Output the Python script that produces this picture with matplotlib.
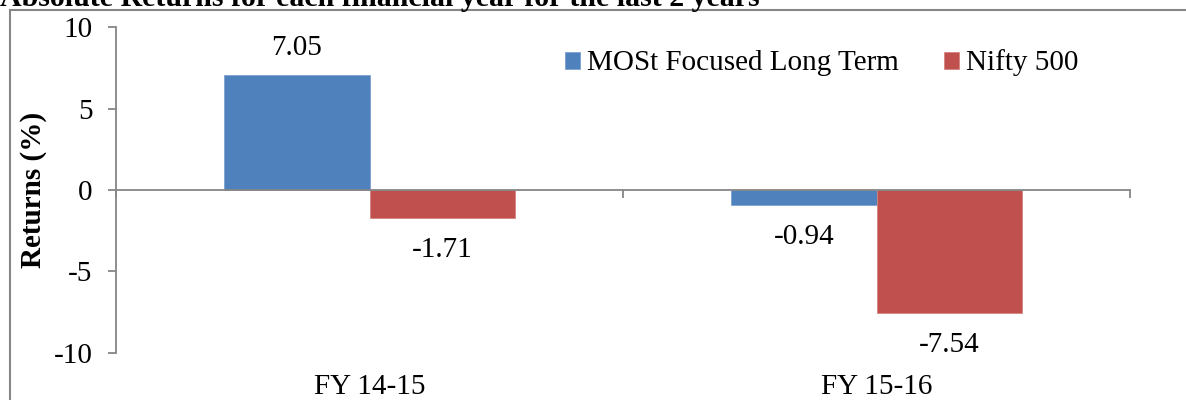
import matplotlib.pyplot as plt
import numpy as np
from matplotlib.patches import Rectangle
from matplotlib.transforms import blended_transform_factory

plt.rcParams['font.family'] = ['Liberation Serif', 'DejaVu Serif']
plt.rcParams['axes.unicode_minus'] = False

anos = ['FY 14-15', 'FY 15-16']
most_focused = [7.05, -0.94]
nifty_500 = [-1.71, -7.54]
yticks = [-10, -5, 0, 5, 10]

cinza = '#868686'
fs = 21

fig = plt.figure(figsize=(11.86, 4), dpi=100)
ax = fig.add_axes([116/1186, 47.3/400, (1130-116)/1186, 325.4/400])

x = np.arange(len(anos))
w = 0.286
b1 = ax.bar(x - w/2, most_focused, w, color='#4F81BD', edgecolor='#7DA0CF',
            linewidth=0.6, label='MOSt Focused Long Term')
b2 = ax.bar(x + w/2, nifty_500, w, color='#C0504D', edgecolor='#D48583',
            linewidth=0.6, label='Nifty 500')

# rotulos dos valores
for xs, vals in [(x - w/2, most_focused), (x + w/2, nifty_500)]:
    for xi, v in zip(xs, vals):
        off = 19.5 if v > 0 else -23
        ax.annotate(f'{v:.2f}', (xi, v), xytext=(0, off), textcoords='offset points',
                    ha='center', va='center', fontsize=fs)

ax.set_xlim(-0.5, 1.5)
ax.set_ylim(-10, 10)
ax.set_yticks(yticks)
ax.set_yticklabels([str(t) for t in yticks])

for s in ['top', 'right']:
    ax.spines[s].set_visible(False)
ax.spines['bottom'].set_position(('data', 0))
for s in ['bottom', 'left']:
    ax.spines[s].set_color(cinza)
    ax.spines[s].set_linewidth(1.3)

ax.set_xticks([])
ax.set_xticks([-0.5, 0.5, 1.5], minor=True)
ax.tick_params(axis='x', which='minor', length=6, width=1.3, color=cinza, direction='out')
ax.tick_params(axis='y', length=6, width=1.3, color=cinza, pad=11, labelsize=fs)

# categorias embaixo
trans = blended_transform_factory(ax.transData, fig.transFigure)
for i, nome in enumerate(anos):
    ax.text(i, 12.5/400, nome, transform=trans, ha='center', va='center', fontsize=fs)

fig.text(34/1186, 210/400, 'Returns (%)', rotation=90, fontweight='bold',
         ha='center', va='center', fontsize=fs)
fig.text(0, 394/400, 'Absolute Returns for each financial year for the last 2 years',
         fontweight='bold', fontsize=21.5, ha='left', va='baseline')

fig.add_artist(Rectangle((10/1186, -0.1), 2, 0.1 + 390/400, transform=fig.transFigure,
                         fill=False, edgecolor=cinza, lw=1.5))

ax.legend(loc='center', bbox_to_anchor=(822/1186, 337/400), bbox_transform=fig.transFigure,
          ncol=2, frameon=False, fontsize=fs, handlelength=0.52, handleheight=0.52,
          handletextpad=0.24, columnspacing=1.55, borderpad=0)

fig.savefig('out.png', dpi=100)
